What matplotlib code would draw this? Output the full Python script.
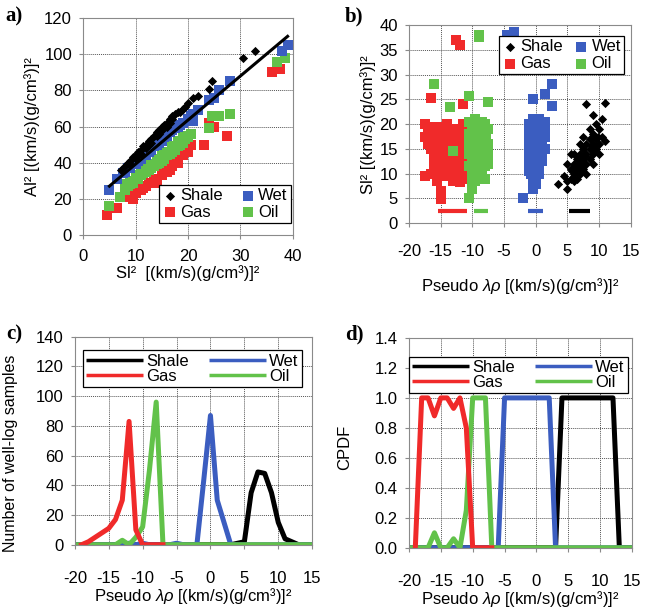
import numpy as np
import matplotlib
matplotlib.use("Agg")
import matplotlib.pyplot as plt

plt.rcParams['font.family'] = ['Liberation Sans', 'DejaVu Sans']
plt.rcParams['mathtext.fontset'] = 'custom'
plt.rcParams['mathtext.it'] = 'Liberation Sans:italic'
plt.rcParams['mathtext.rm'] = 'Liberation Sans'
plt.rcParams['axes.unicode_minus'] = False

RED = '#f02a2a'
BLUE = '#3b5dc0'
GREEN = '#62c24a'

# ---- panel a: Al^2 vs Sl^2 ----
a_shale = [(7.2, 36), (8, 38), (8.5, 40), (9, 41), (9.5, 43), (10, 44), (10.5, 46), (11, 47),
           (11.5, 49), (12, 50), (12.5, 52), (13, 53), (13.5, 55), (14, 57), (14.5, 58), (15, 60),
           (15.5, 61), (16, 62), (16.5, 64), (17, 66), (17.5, 67), (18, 68), (19, 70), (20, 73),
           (21, 76), (22, 77), (24, 81), (24.5, 85), (30.5, 98), (32.7, 102), (9, 39), (10, 42),
           (11, 45), (12, 48), (13, 51), (14, 55), (15, 58), (16, 60), (17, 64), (10.5, 44),
           (12.5, 50), (14.5, 56), (16.5, 62), (18.5, 68), (19.5, 71)]
a_wet = [(5, 25), (6.5, 31), (7.5, 34), (8, 35), (9, 37), (10, 39), (11, 42), (12, 44), (13, 47),
         (14, 50), (15, 52), (16, 55), (17, 58), (18, 60), (19, 62), (20, 64), (21, 67), (22, 69),
         (24, 75), (25, 76), (26, 80), (28, 85), (38, 102), (39, 105), (8.5, 37), (9.5, 39),
         (10.5, 41), (11.5, 44), (12.5, 46), (13.5, 49), (14.5, 51), (15.5, 54), (16.5, 57),
         (17.5, 59), (18.5, 61), (20.5, 66), (21, 63)]
a_oil = [(5, 16), (7, 21), (8, 25), (8.5, 27), (9, 28), (10, 31), (11, 33), (12, 35), (13, 37),
         (14, 39), (15, 41), (16, 44), (17, 46), (18, 49), (19, 51), (20, 54), (20.5, 56), (24, 59),
         (24.5, 66), (26, 66), (28, 67), (37, 96), (38.5, 98), (8, 28), (9, 30), (10, 33), (11, 35),
         (12, 37), (13, 39), (14, 42), (15, 44), (16, 46), (17, 49), (18, 52), (19, 55), (9.5, 29),
         (10.5, 31), (11.5, 34), (12.5, 36), (13.5, 38), (14.5, 40), (15.5, 42), (16.5, 45),
         (17.5, 47), (18.5, 50), (19.5, 53)]
a_gas = [(4.5, 11), (6.5, 15), (8, 21), (9, 21), (9.5, 20), (10, 23), (11, 25), (12, 27), (13, 29),
         (14, 29), (14, 31), (15, 33), (16, 35), (17, 38), (18, 40), (19, 44), (20, 46), (20.5, 50),
         (23, 50), (24, 62), (25, 60), (27.5, 55), (36, 90), (37.5, 92), (8.5, 22), (9, 24),
         (10.5, 25), (11.5, 26), (12.5, 29), (13.5, 31), (15, 34), (16, 37), (17, 39), (18, 43),
         (19, 46), (19.5, 47), (17.5, 41), (20, 48), (16.5, 36)]
fit_x = [5, 39]
fit_y = [27, 110]

# ---- panel b: Sl^2 vs pseudo lambda-rho ----
b_gas = [(-17.5, 20), (-17, 19), (-17.5, 17.5), (-16.5, 18.5), (-17, 16), (-16.5, 15), (-16, 13),
         (-15.5, 14), (-15, 16), (-15, 18), (-14.5, 19.5), (-14.5, 12), (-14, 14.5), (-14, 17),
         (-13.5, 13), (-13.5, 10), (-13, 16), (-13, 11.5), (-12.5, 9), (-12.5, 19), (-12.5, 14),
         (-12, 12), (-12, 17), (-11.5, 15), (-11.5, 10), (-11, 13), (-11, 18), (-10.8, 11.5),
         (-10.5, 16), (-16, 11), (-15.5, 10.5), (-14, 9.5), (-13, 8.5), (-12, 8.3), (-11.5, 9),
         (-15, 13), (-16, 17), (-14, 20), (-12.5, 16), (-11.5, 13.5), (-13.5, 18), (-10.5, 14),
         (-17.5, 9.5), (-15.5, 8.5), (-12, 11), (-12.5, 37), (-12, 36), (-16.5, 25.3), (-11.5, 24),
         (-11.5, 20), (-15, 6.5), (-15, 4.8), (-16.5, 10), (-13.5, 15.5), (-14.5, 11), (-11, 15.5),
         (-16, 19.5), (-13, 13.5), (-15.5, 12)]
b_oil = [(-10.5, 18), (-10, 19.5), (-9.5, 21), (-9, 20), (-8.5, 20.5), (-8, 20), (-7.5, 19),
         (-10.5, 16), (-10, 15), (-9.5, 17), (-9, 16), (-8.5, 18), (-8, 17), (-7.5, 16), (-10.5, 14),
         (-10, 13), (-9.5, 14), (-9, 13), (-8.5, 14.5), (-8, 13), (-7.5, 14), (-10.5, 11.5),
         (-10, 10.5), (-9.5, 12), (-9, 10), (-8.5, 11), (-8, 11.5), (-7.5, 12), (-10, 9),
         (-9.5, 8.5), (-9, 9), (-8.5, 9.5), (-8, 9), (-9.5, 18.5), (-8.5, 16), (-9, 11.5), (-8, 15),
         (-10.5, 20.5), (-7.8, 18), (-9, 37.5), (-9, 38), (-16, 28), (-10.5, 25.7), (-13.5, 23.5),
         (-7.5, 24.5), (-10, 7), (-10.5, 5), (-13, 14.5)]
b_wet = [(-1, 20), (-0.5, 21), (0, 20.5), (0.5, 21), (1, 20), (1.5, 20.5), (-1, 18), (-0.5, 19),
         (0, 18), (0.5, 19), (1, 18), (1.5, 17.5), (-1, 16), (-0.5, 17), (0, 16), (0.5, 15.5),
         (1, 16), (-1, 14), (-0.5, 13), (0, 14), (0.5, 13), (1, 14), (-1, 12), (-0.5, 11), (0, 12),
         (0.5, 11), (1, 12.5), (-0.8, 10), (0, 9.5), (0.5, 10), (-0.5, 8.5), (0, 8), (1.5, 19),
         (1.5, 15), (-1, 10.5), (0.5, 17), (-4.5, 38), (-3.5, 38.5), (2.5, 28), (1.5, 26),
         (-0.5, 25), (2.5, 23.7), (-0.5, 7), (-2, 5)]
b_shale = [(4.5, 9.5), (5, 8.5), (5.5, 9), (5.5, 11), (6, 10), (6, 12), (6.5, 9), (6.5, 11),
           (6.5, 13), (7, 10), (7, 12), (7, 14), (7.5, 11), (7.5, 13), (7.5, 15), (8, 12), (8, 14),
           (8, 16), (8.5, 13), (8.5, 15), (8.5, 17), (9, 14), (9, 16), (9, 18), (9.5, 15), (9.5, 17),
           (10, 16), (10, 19), (10.5, 17.5), (11, 16.5), (6, 14), (5, 12), (6, 8.5), (8, 10),
           (9, 12), (7, 16), (10, 14), (8.5, 19), (9.5, 20), (3.5, 8), (5, 7), (8, 24), (11, 24.3),
           (9, 21.8), (10.5, 21), (7.5, 17.5), (5.5, 14), (6.8, 11.5), (7.8, 13.5), (8.8, 15.5),
           (5.8, 10.5), (9.8, 17.5)]
# zero-Sl2 ranges drawn as bars
bar_gas = [-15.4, -10.9]
bar_oil = [-9.8, -7.6]
bar_wet = [-1.2, 1.1]
bar_shale = [5.3, 8.5]
bar_level = 2.5

# ---- panels c, d: histograms and CPDF ----
lam = list(range(-20, 16))
gas_lam = list(range(-19, -6))
c_shale = [0] * 23 + [0, 1, 2, 35, 49, 48, 35, 15, 4, 2, 0, 0, 0]
c_wet = [0] * 7 + [0, 1, 0, 1, 0, 0, 0, 0, 1, 0, 0, 0, 43, 87, 30, 15, 0] + [0] * 12
c_oil = [0] * 7 + [3, 0, 5, 12, 50, 96, 0] + [0] * 22
c_gas = [0, 2, 5, 8, 11, 17, 30, 83, 10, 0, 0, 0, 0]

d_shale = [0] * 24 + [1] * 9 + [0] * 3
d_wet = [0] * 15 + [1] * 8 + [0] * 13
d_oil = [0] * 4 + [0.1, 0, 0, 0.06, 0, 0.25, 1, 1, 1, 0] + [0] * 22
d_gas = [0, 1, 1, 0.88, 1, 1, 0.93, 1, 0.8, 0, 0, 0, 0]

fig = plt.figure(figsize=(6.45, 6.1), dpi=100)
ax_a = fig.add_axes([0.129, 0.615, 0.325, 0.355])
ax_b = fig.add_axes([0.634, 0.634, 0.344, 0.325])
ax_c = fig.add_axes([0.116, 0.107, 0.368, 0.341])
ax_d = fig.add_axes([0.634, 0.102, 0.346, 0.344])

FS = 12


def style(ax, xpad=5):
    ax.grid(True, color='#555555', linestyle=(0, (1, 1)), linewidth=0.7)
    ax.set_axisbelow(True)
    for s in ax.spines.values():
        s.set_color('#8a8a8a')
        s.set_linewidth(0.8)
    ax.tick_params(labelsize=FS, length=3, color='#8a8a8a', pad=5)
    ax.tick_params(axis='x', pad=xpad)


def pts(data):
    arr = np.array(data, dtype=float)
    return arr[:, 0], arr[:, 1]


SQ = 42
DM = 22

# a
x, y = pts(a_gas)
ax_a.scatter(x, y, marker='s', s=SQ, color=RED, lw=0, label='Gas')
x, y = pts(a_oil)
ax_a.scatter(x, y, marker='s', s=SQ, color=GREEN, lw=0, label='Oil')
x, y = pts(a_wet)
ax_a.scatter(x, y, marker='s', s=SQ, color=BLUE, lw=0, label='Wet')
x, y = pts(a_shale)
ax_a.scatter(x, y, marker='D', s=DM, color='black', lw=0, label='Shale')
ax_a.plot(fit_x, fit_y, color='black', lw=2.2)
ax_a.set_xlim(0, 40)
ax_a.set_ylim(0, 120)
ax_a.set_xticks([0, 10, 20, 30, 40])
ax_a.set_yticks(range(0, 121, 20))
style(ax_a, xpad=7)
ax_a.set_xlabel('Sl²  [(km/s)(g/cm³)]²', fontsize=FS, labelpad=1)
ax_a.set_ylabel('Al² [(km/s)(g/cm³)]²', fontsize=FS, labelpad=3)
h, l = ax_a.get_legend_handles_labels()
order = [l.index(k) for k in ['Shale', 'Gas', 'Wet', 'Oil']]
leg = ax_a.legend([h[i] for i in order], [l[i] for i in order], ncol=2, loc='lower right',
                  bbox_to_anchor=(0.99, 0.055), fontsize=FS, frameon=True, fancybox=False,
                  edgecolor='black', handletextpad=0.1, columnspacing=1.0, handlelength=1.0,
                  borderpad=0.2, labelspacing=0.1, borderaxespad=0, framealpha=1)
leg.get_frame().set_linewidth(0.9)

# b
x, y = pts(b_gas)
ax_b.scatter(x, y, marker='s', s=SQ, color=RED, lw=0, label='Gas')
x, y = pts(b_oil)
ax_b.scatter(x, y, marker='s', s=SQ, color=GREEN, lw=0, label='Oil')
x, y = pts(b_wet)
ax_b.scatter(x, y, marker='s', s=SQ, color=BLUE, lw=0, label='Wet')
x, y = pts(b_shale)
ax_b.scatter(x, y, marker='D', s=DM, color='black', lw=0, label='Shale')
for rng, c in [(bar_gas, RED), (bar_oil, GREEN), (bar_wet, BLUE), (bar_shale, 'black')]:
    ax_b.plot(rng, [bar_level, bar_level], color=c, lw=3, solid_capstyle='butt')
ax_b.set_xlim(-20, 15)
ax_b.set_ylim(0, 40)
ax_b.set_xticks(range(-20, 16, 5))
ax_b.set_yticks(range(0, 41, 5))
style(ax_b, xpad=12)
ax_b.set_xlabel(r'Pseudo $\it{\lambda\rho}$ [(km/s)(g/cm³)]²', fontsize=FS, labelpad=12)
ax_b.set_ylabel('Sl² [(km/s)(g/cm³)]²', fontsize=FS, labelpad=2)
h, l = ax_b.get_legend_handles_labels()
order = [l.index(k) for k in ['Shale', 'Gas', 'Wet', 'Oil']]
leg = ax_b.legend([h[i] for i in order], [l[i] for i in order], ncol=2, loc='upper right',
                  bbox_to_anchor=(0.97, 0.945), fontsize=FS, frameon=True, fancybox=False,
                  edgecolor='black', handletextpad=0.1, columnspacing=0.6, handlelength=1.0,
                  borderpad=0.2, labelspacing=0.1, borderaxespad=0, framealpha=1)
leg.get_frame().set_linewidth(0.9)

# c
LW = 3.6
ax_c.plot(lam, c_shale, color='black', lw=LW, label='Shale')
ax_c.plot(lam, c_wet, color=BLUE, lw=LW, label='Wet')
ax_c.plot(lam, c_oil, color=GREEN, lw=LW, label='Oil')
ax_c.plot(gas_lam, c_gas, color=RED, lw=LW, label='Gas')
ax_c.set_xlim(-20, 15)
ax_c.set_ylim(0, 140)
ax_c.set_xticks(range(-20, 16, 5))
ax_c.set_yticks(range(0, 141, 20))
style(ax_c, xpad=16)
ax_c.set_xlabel(r'Pseudo $\it{\lambda\rho}$ [(km/s)(g/cm³)]²', fontsize=FS, labelpad=0)
ax_c.set_ylabel('Number of well-log samples', fontsize=11.5)
ax_c.yaxis.set_label_coords(-0.24, 0.44)

# d
ax_d.plot(lam, d_shale, color='black', lw=LW, label='Shale')
ax_d.plot(lam, d_wet, color=BLUE, lw=LW, label='Wet')
ax_d.plot(lam, d_oil, color=GREEN, lw=LW, label='Oil')
ax_d.plot(gas_lam, d_gas, color=RED, lw=LW, label='Gas')
ax_d.set_xlim(-20, 15)
ax_d.set_ylim(0, 1.4)
ax_d.set_xticks(range(-20, 16, 5))
ax_d.set_yticks(np.round(np.arange(0, 1.41, 0.2), 1))
ax_d.set_yticklabels([f'{v:.1f}' for v in np.arange(0, 1.41, 0.2)])
style(ax_d, xpad=16)
ax_d.set_xlabel(r'Pseudo $\it{\lambda\rho}$ [(km/s)(g/cm³)]²', fontsize=FS, labelpad=0)
ax_d.set_ylabel('CPDF', fontsize=FS)
ax_d.yaxis.set_label_coords(-0.255, 0.48)

for ax, anchor in [(ax_c, (0.495, 0.935)), (ax_d, (0.49, 0.91))]:
    h, l = ax.get_legend_handles_labels()
    order = [l.index(k) for k in ['Shale', 'Gas', 'Wet', 'Oil']]
    hh = [plt.Line2D([], [], color=h[i].get_color(), lw=2.5, solid_capstyle='butt') for i in order]
    leg = ax.legend(hh, [l[i] for i in order], ncol=2, loc='upper center', bbox_to_anchor=anchor,
                    fontsize=FS, frameon=True, fancybox=False, edgecolor='black',
                    handlelength=3.4, handletextpad=0.2, columnspacing=1.2, borderpad=0.2,
                    labelspacing=0.0, borderaxespad=0, framealpha=1)
    leg.get_frame().set_linewidth(0.9)

# panel letters
for txt, px, py in [('a)', 0.008, 0.99), ('b)', 0.535, 0.99), ('c)', 0.01, 0.468), ('d)', 0.535, 0.468)]:
    fig.text(px, py, txt, fontsize=15, fontweight='bold', family='Liberation Serif', va='top')

fig.savefig('out.png', dpi=100)
